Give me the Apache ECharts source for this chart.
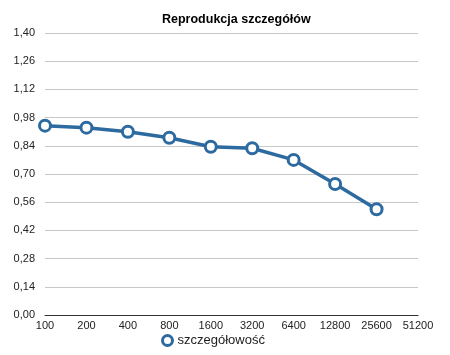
<!DOCTYPE html>
<html>
<head>
<meta charset="utf-8">
<script src="https://cdn.jsdelivr.net/npm/echarts@6/dist/echarts.min.js"></script>
<style>html,body{margin:0;padding:0;background:#fff}#c{width:450px;height:355px}</style>
</head>
<body>
<div id="c"></div>
<script>
const categories = ['100','200','400','800','1600','3200','6400','12800','25600','51200'];
const values = [0.94, 0.93, 0.91, 0.88, 0.835, 0.828, 0.77, 0.65, 0.525, null];
const seriesName = 'szczegółowość';
const titleText = 'Reprodukcja szczegółów';

const chart = echarts.init(document.getElementById('c'));
chart.setOption({
  animation: false,
  backgroundColor: '#fff',
  title: {
    text: titleText, left: 157, top: 8,
    textStyle: {fontFamily: 'Liberation Sans, Arial', fontSize: 12.5, fontWeight: 'bold', color: '#000'}
  },
  legend: {
    bottom: 3, left: 156,
    itemWidth: 10, itemHeight: 10, itemGap: 6,
    itemStyle: {color: '#fff', borderColor: '#2d6a9f', borderWidth: 3},
    textStyle: {fontFamily: 'Liberation Sans, Arial', fontSize: 13, color: '#222'},
    data: [{name: seriesName, icon: 'circle'}]
  },
  grid: {left: 45, right: 32, top: 33, bottom: 40, containLabel: false},
  xAxis: {
    type: 'category', data: categories, boundaryGap: false,
    axisLine: {lineStyle: {color: '#333', width: 1}},
    axisTick: {show: false},
    axisLabel: {fontFamily: 'Liberation Sans, Arial', fontSize: 11, color: '#222', margin: 5, interval: 0}
  },
  yAxis: {
    type: 'value', min: 0, max: 1.4, interval: 0.14,
    axisLine: {show: false}, axisTick: {show: false},
    splitLine: {lineStyle: {color: '#c8c8c8', width: 1}},
    axisLabel: {
      fontFamily: 'Liberation Sans, Arial', fontSize: 11, color: '#222', margin: 10,
      formatter: v => v.toFixed(2).replace('.', ',')
    }
  },
  series: [{
    name: seriesName, type: 'line', data: values,
    symbol: 'circle', symbolSize: 11,
    lineStyle: {color: '#2d6a9f', width: 3.5},
    itemStyle: {color: '#fff', borderColor: '#2d6a9f', borderWidth: 3}
  }]
});
</script>
</body>
</html>
